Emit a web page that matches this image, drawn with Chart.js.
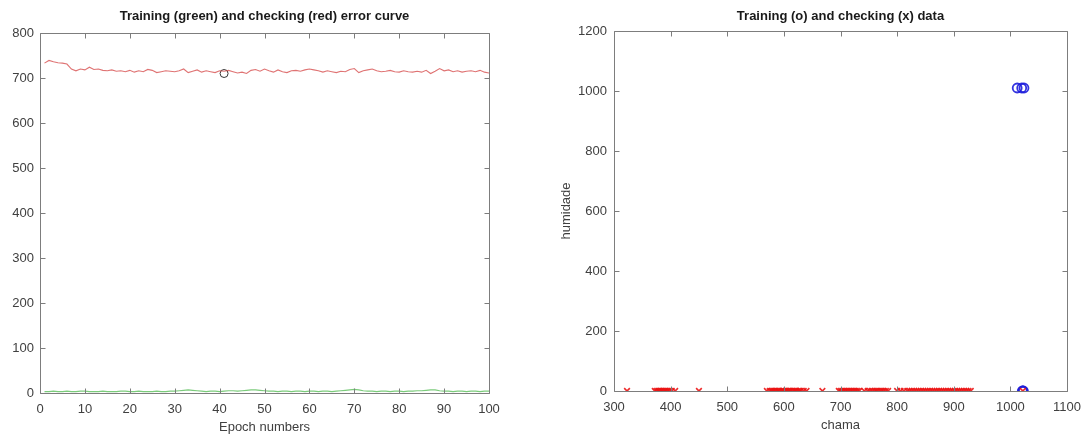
<!DOCTYPE html>
<html>
<head>
<meta charset="utf-8">
<script src="https://cdn.jsdelivr.net/npm/chart.js@4/dist/chart.umd.min.js"></script>
<style>
  html, body { margin: 0; padding: 0; background: #ffffff; }
  #wrap { position: relative; width: 1090px; height: 434px; overflow: hidden; }
  .box { position: absolute; top: 0; width: 545px; height: 434px; }
  #b1 { left: 0; }
  #b2 { left: 545px; }
</style>
</head>
<body>
<div id="wrap">
  <div class="box" id="b1"><canvas id="c1" width="545" height="434"></canvas></div>
  <div class="box" id="b2"><canvas id="c2" width="545" height="434"></canvas></div>
</div>
<script>
// ---------- Left chart data ----------
const leftTitle = 'Training (green) and checking (red) error curve';
const leftXLabel = 'Epoch numbers';
const leftXTicks = [0, 10, 20, 30, 40, 50, 60, 70, 80, 90, 100];
const leftYTicks = [0, 100, 200, 300, 400, 500, 600, 700, 800];

// checking error (red), epochs 1..100
const checkErr = [
  733, 739, 736, 734, 733, 731, 720, 716, 720, 718,
  724, 719, 720, 717, 716, 718, 715, 716, 714, 717,
  713, 716, 714, 719, 717, 712, 714, 716, 715, 714,
  716, 720, 712, 715, 718, 713, 716, 714, 712, 716,
  715, 717, 714, 711, 713, 710, 717, 719, 715, 720,
  716, 713, 718, 714, 712, 716, 717, 715, 718, 720,
  718, 716, 713, 716, 714, 712, 715, 714, 719, 721,
  712, 716, 718, 720, 716, 714, 715, 717, 714, 713,
  716, 714, 713, 715, 713, 717, 710, 715, 721, 716,
  718, 714, 716, 713, 715, 716, 714, 717, 713, 711
];
// training error (green), epochs 1..100
const trainErr = [
  3, 3, 4, 3, 3, 4, 3, 3, 4, 4,
  3, 3, 3, 4, 3, 3, 3, 4, 4, 3,
  3, 4, 3, 3, 3, 4, 3, 3, 4, 4,
  5, 6, 7, 6, 5, 4, 3, 4, 4, 3,
  4, 5, 5, 4, 5, 6, 7, 7, 6, 5,
  4, 4, 3, 4, 4, 3, 4, 4, 3, 4,
  4, 3, 4, 4, 3, 4, 5, 6, 7, 8,
  7, 5, 4, 4, 3, 4, 4, 3, 4, 4,
  3, 4, 4, 5, 5, 6, 7, 7, 5, 4,
  4, 3, 4, 4, 3, 4, 4, 3, 4, 4
];
const minEpoch = [41];
const minErr = [710];

// ---------- Right chart data ----------
const rightTitle = 'Training (o) and checking (x) data';
const rightXLabel = 'chama';
const rightYLabel = 'humidade';
const rightXTicks = [300, 400, 500, 600, 700, 800, 900, 1000, 1100];
const rightYTicks = [0, 200, 400, 600, 800, 1000, 1200];

// checking data (x): chama values, humidade values
const checkChama = [
  323,
  372, 375, 378, 380, 383, 385, 388, 390, 392, 395, 398, 402, 408,
  450,
  570, 575, 578, 580, 583, 585, 588, 590, 592, 595, 598, 600, 603, 605, 608,
  610, 612, 615, 618, 620, 622, 625, 628, 630, 635, 640,
  668,
  697, 700, 703, 706, 709, 712, 715, 718, 721, 724, 727, 730, 733,
  742, 748, 752, 756, 760, 763, 766, 770, 773, 776, 780, 784,
  800, 806, 812, 818, 822, 826, 830, 834, 838, 842, 846, 850, 854, 858,
  862, 866, 870, 874, 878, 882, 886, 890, 894, 898, 902, 906, 910, 914,
  918, 922, 926, 930,
  1022
];
const checkHum = checkChama.map(() => 0);

// training data (o)
const trainChama = [1012, 1020, 1024, 1021, 1022, 1023];
const trainHum = [1010, 1010, 1010, 0, 0, 0];

// ---------- helpers ----------
const FONT = '"Liberation Sans", Arial, Helvetica, sans-serif';
const TICK_COLOR = '#404040';
const AXIS_COLOR = '#7d7d7d';

const boxPlugin = {
  id: 'boxPlugin',
  afterDraw(chart) {
    const ctx = chart.ctx;
    const a = chart.chartArea;
    const xs = chart.scales.x, ys = chart.scales.y;
    const L = Math.round(a.left) + 0.5, R = Math.round(a.right) + 0.5;
    const T = Math.round(a.top) + 0.5, B = Math.round(a.bottom) + 0.5;
    ctx.save();
    ctx.strokeStyle = AXIS_COLOR;
    ctx.lineWidth = 1;
    ctx.beginPath();
    ctx.rect(L, T, R - L, B - T);
    const tl = 5;
    xs.ticks.forEach(t => {
      const px = Math.round(xs.getPixelForValue(t.value)) + 0.5;
      ctx.moveTo(px, B); ctx.lineTo(px, B - tl);
      ctx.moveTo(px, T); ctx.lineTo(px, T + tl);
    });
    ys.ticks.forEach(t => {
      const py = Math.round(ys.getPixelForValue(t.value)) + 0.5;
      ctx.moveTo(L, py); ctx.lineTo(L + tl, py);
      ctx.moveTo(R, py); ctx.lineTo(R - tl, py);
    });
    ctx.stroke();
    ctx.restore();
  }
};

function tickSetter(list) {
  return function (scale) {
    scale.ticks = list.map(v => ({ value: v }));
  };
}
const plainLabel = v => String(v);

// ---------- Left chart ----------
const epochs = checkErr.map((_, i) => i + 1);
new Chart(document.getElementById('c1'), {
  type: 'line',
  data: {
    datasets: [
      {
        label: 'training',
        data: epochs.map((e, i) => ({ x: e, y: trainErr[i] })),
        borderColor: 'rgba(90,190,90,0.8)',
        borderWidth: 1.2,
        pointRadius: 0,
        tension: 0
      },
      {
        label: 'checking',
        data: epochs.map((e, i) => ({ x: e, y: checkErr[i] })),
        borderColor: 'rgba(215,80,80,0.8)',
        borderWidth: 1.1,
        pointRadius: 0,
        tension: 0
      },
      {
        label: 'min',
        data: minEpoch.map((e, i) => ({ x: e, y: minErr[i] })),
        showLine: false,
        pointStyle: 'circle',
        pointRadius: 4,
        pointBorderWidth: 1,
        pointBorderColor: '#333333',
        pointBackgroundColor: 'rgba(0,0,0,0)'
      }
    ]
  },
  options: {
    responsive: false,
    animation: false,
    events: [],
    layout: { padding: { left: 0, right: 56, top: 0, bottom: 0 } },
    plugins: {
      legend: { display: false },
      tooltip: { enabled: false },
      title: {
        display: true,
        text: leftTitle,
        fullSize: false,
        color: '#1a1a1a',
        font: { family: FONT, size: 13, weight: 'bold' },
        padding: { top: 9, bottom: 8.4 }
      }
    },
    scales: {
      x: {
        type: 'linear', min: 0, max: 100,
        afterBuildTicks: tickSetter(leftXTicks),
        afterFit(s) { s.height = 41; },
        grid: { display: false, drawTicks: false },
        border: { display: false },
        ticks: { color: TICK_COLOR, font: { family: FONT, size: 13 }, padding: 9, maxRotation: 0, callback: plainLabel },
        title: { display: true, text: leftXLabel, color: TICK_COLOR,
                 font: { family: FONT, size: 13, lineHeight: 1 }, padding: { top: 0, bottom: 0 } }
      },
      y: {
        type: 'linear', min: 0, max: 800,
        afterBuildTicks: tickSetter(leftYTicks),
        afterFit(s) { s.width = 40; },
        grid: { display: false, drawTicks: false },
        border: { display: false },
        ticks: { color: TICK_COLOR, font: { family: FONT, size: 13 }, padding: 6, callback: plainLabel }
      }
    }
  },
  plugins: [boxPlugin]
});

// ---------- Right chart ----------
new Chart(document.getElementById('c2'), {
  type: 'scatter',
  data: {
    datasets: [
      {
        label: 'checking',
        data: checkChama.map((v, i) => ({ x: v, y: checkHum[i] })),
        pointStyle: 'crossRot',
        pointRadius: 4,
        pointBorderWidth: 1.6,
        pointBorderColor: 'rgba(235,20,20,0.9)',
        pointBackgroundColor: 'rgba(235,20,20,0.9)'
      },
      {
        label: 'training',
        data: trainChama.map((v, i) => ({ x: v, y: trainHum[i] })),
        pointStyle: 'circle',
        pointRadius: 4.5,
        pointBorderWidth: 1.8,
        pointBorderColor: 'rgba(30,30,220,0.9)',
        pointBackgroundColor: 'rgba(0,0,0,0)'
      }
    ]
  },
  options: {
    responsive: false,
    animation: false,
    events: [],
    layout: { padding: { left: 0, right: 12, top: 0, bottom: 0 } },
    plugins: {
      legend: { display: false },
      tooltip: { enabled: false },
      title: {
        display: true,
        text: rightTitle,
        fullSize: false,
        color: '#1a1a1a',
        font: { family: FONT, size: 13, weight: 'bold' },
        padding: { top: 9, bottom: 6.4 }
      }
    },
    scales: {
      x: {
        type: 'linear', min: 300, max: 1100,
        afterBuildTicks: tickSetter(rightXTicks),
        afterFit(s) { s.height = 43; },
        grid: { display: false, drawTicks: false },
        border: { display: false },
        ticks: { color: TICK_COLOR, font: { family: FONT, size: 13 }, padding: 9, maxRotation: 0, callback: plainLabel },
        title: { display: true, text: rightXLabel, color: TICK_COLOR,
                 font: { family: FONT, size: 13, lineHeight: 1 }, padding: { top: 0, bottom: 2 } }
      },
      y: {
        type: 'linear', min: 0, max: 1200,
        afterBuildTicks: tickSetter(rightYTicks),
        afterFit(s) { s.width = 69; },
        grid: { display: false, drawTicks: false },
        border: { display: false },
        ticks: { color: TICK_COLOR, font: { family: FONT, size: 13 }, padding: 7, callback: plainLabel },
        title: { display: true, text: rightYLabel, color: TICK_COLOR,
                 font: { family: FONT, size: 13, lineHeight: 1 }, padding: { top: 15, bottom: 0 } }
      }
    }
  },
  plugins: [boxPlugin]
});
</script>
</body>
</html>
